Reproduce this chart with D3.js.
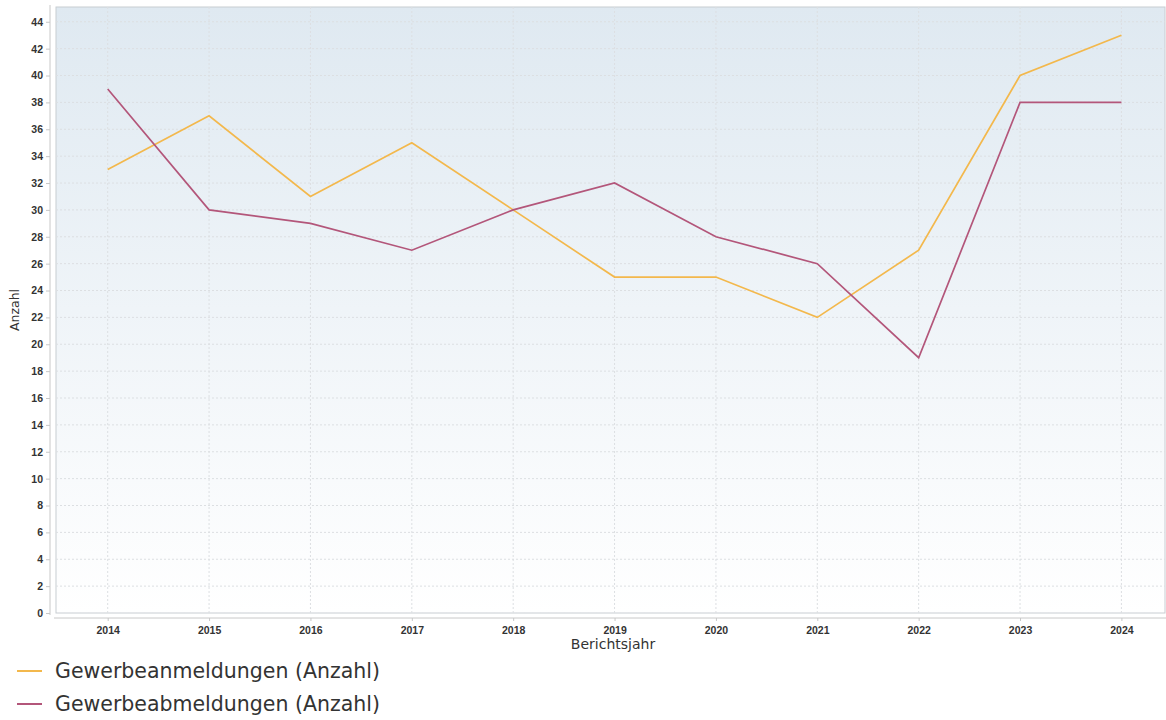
<!DOCTYPE html>
<html>
<head>
<meta charset="utf-8">
<script src="https://cdn.jsdelivr.net/npm/d3@7"></script>
<style>
  body { margin: 0; background: #fff; }
  svg { display: block; font-family: "DejaVu Sans", sans-serif; }
  .grid line { stroke: #dcdfe2; stroke-dasharray: 2,2; }
  .axis text { fill: #333; font-size: 10.5px; font-weight: bold; }
  .axis path, .axis line { stroke: #c8c8c8; }
</style>
</head>
<body>
<svg width="1166" height="720"></svg>
<script>
var years = [2014, 2015, 2016, 2017, 2018, 2019, 2020, 2021, 2022, 2023, 2024];
var anmeldungen = [33, 37, 31, 35, 30, 25, 25, 22, 27, 40, 43];
var abmeldungen = [39, 30, 29, 27, 30, 32, 28, 26, 19, 38, 38];
var yTicks = d3.range(0, 45, 2);

var seriesNames = ["Gewerbeanmeldungen (Anzahl)", "Gewerbeabmeldungen (Anzahl)"];
var seriesColors = ["#f3b84c", "#b3567a"];

var svg = d3.select("svg");
var PLOT = {left: 56, top: 7, right: 1165, bottom: 613};

var x = d3.scaleLinear().domain([2013.49, 2024.43]).range([PLOT.left, PLOT.right]);
var y = d3.scaleLinear().domain([0, 45.1]).range([PLOT.bottom, PLOT.top]);

// background gradient
var defs = svg.append("defs");
var grad = defs.append("linearGradient")
    .attr("id", "bg").attr("x1", 0).attr("y1", 0).attr("x2", 0).attr("y2", 1);
grad.append("stop").attr("offset", "0%").attr("stop-color", "#dfe9f1");
grad.append("stop").attr("offset", "100%").attr("stop-color", "#ffffff");

svg.append("rect")
    .attr("x", PLOT.left).attr("y", PLOT.top)
    .attr("width", PLOT.right - PLOT.left).attr("height", PLOT.bottom - PLOT.top)
    .attr("fill", "url(#bg)")
    .attr("stroke", "#c8cdd2");

// grid
var grid = svg.append("g").attr("class", "grid");
grid.selectAll(".gy").data(yTicks.slice(1)).enter().append("line")
    .attr("x1", PLOT.left).attr("x2", PLOT.right)
    .attr("y1", d => y(d)).attr("y2", d => y(d));
grid.selectAll(".gx").data(years).enter().append("line")
    .attr("y1", PLOT.top).attr("y2", PLOT.bottom)
    .attr("x1", d => x(d)).attr("x2", d => x(d));

// axes (offset from the plot area)
svg.append("g")
    .attr("class", "axis")
    .attr("transform", "translate(0," + (PLOT.bottom + 5) + ")")
    .call(d3.axisBottom(x).tickValues(years).tickFormat(d3.format("d")).tickSize(3).tickSizeOuter(0))
    .call(g => g.select(".domain").attr("d", "M" + (PLOT.left - 2) + ",0H1166"))
    .selectAll("text").attr("dy", "0.95em");

svg.append("g")
    .attr("class", "axis")
    .attr("transform", "translate(" + (PLOT.left - 6) + ",0)")
    .call(d3.axisLeft(y).tickValues(yTicks).tickSize(4).tickSizeOuter(0))
    .call(g => g.select(".domain").attr("d", "M0," + (PLOT.top - 2) + "V" + (PLOT.bottom + 2)));

// axis titles
svg.append("text")
    .attr("transform", "translate(19,310) rotate(-90)")
    .attr("text-anchor", "middle")
    .attr("fill", "#333").attr("font-size", 12.5)
    .text("Anzahl");

svg.append("text")
    .attr("x", 613).attr("y", 649)
    .attr("text-anchor", "middle")
    .attr("fill", "#333").attr("font-size", 14)
    .text("Berichtsjahr");

// lines
var line = d3.line()
    .x((d, i) => x(years[i]))
    .y(d => y(d));

[anmeldungen, abmeldungen].forEach(function(s, i) {
  svg.append("path")
      .datum(s)
      .attr("fill", "none")
      .attr("stroke", seriesColors[i])
      .attr("stroke-width", 1.7)
      .attr("d", line);
});

// legend
var legend = svg.selectAll(".legend").data(seriesNames).enter().append("g")
    .attr("transform", (d, i) => "translate(0," + (671 + i * 33) + ")");
legend.append("line")
    .attr("x1", 17).attr("x2", 42)
    .attr("stroke", (d, i) => seriesColors[i]).attr("stroke-width", 2);
legend.append("text")
    .attr("x", 55).attr("dy", "0.35em")
    .attr("fill", "#333").attr("font-size", 20.5)
    .text(d => d);
</script>
</body>
</html>
